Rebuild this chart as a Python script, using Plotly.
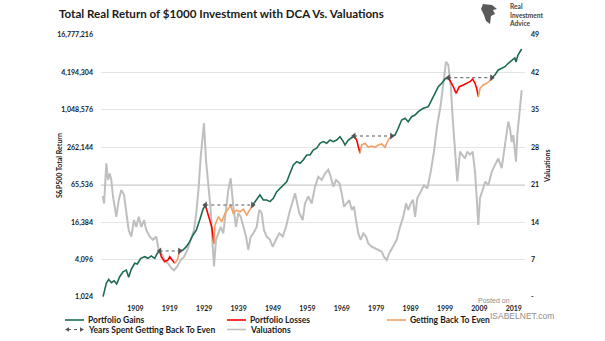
import plotly.graph_objects as go

# ---- data -----------------------------------------------------------------
# Real total-return value of the DCA portfolio (left, log scale)
PORT_YEARS = [
    1899.6, 1900.54, 1901.24, 1902.0, 1902.78, 1903.56, 1904.44, 1905.4, 1906.35, 1907.05,
    1907.8, 1908.8, 1909.55, 1910.54, 1911.7, 1912.66, 1913.62, 1914.6, 1915.37, 1916.06,
    1916.53, 1917.52, 1918.48, 1918.97, 1919.64, 1920.42, 1921.18, 1921.88, 1922.84, 1923.8,
    1924.78, 1925.74, 1926.7, 1927.69, 1928.65, 1929.32, 1929.73, 1930.48, 1931.18, 1931.85,
    1932.14, 1933.1, 1934.09, 1935.05, 1936.0, 1936.7, 1937.44, 1938.45, 1939.4, 1940.37,
    1941.36, 1942.3, 1943.1, 1944.26, 1945.2, 1946.18, 1947.17, 1948.13, 1949.09, 1950.08,
    1951.53, 1952.98, 1953.94, 1954.9, 1955.89, 1956.85, 1957.8, 1958.8, 1959.76, 1960.7,
    1961.7, 1962.66, 1963.6, 1964.6, 1965.57, 1966.5, 1967.5, 1968.48, 1969.44, 1969.93,
    1970.9, 1971.88, 1972.55, 1973.33, 1973.8, 1974.3, 1974.78, 1975.74, 1976.7, 1977.7,
    1978.65, 1979.6, 1980.6, 1981.56, 1982.5, 1983.5, 1984.47, 1985.4, 1986.4, 1987.4,
    1988.3, 1989.3, 1990.28, 1991.24, 1992.7, 1994.15, 1995.13, 1996.1, 1997.05, 1998.04,
    1999.0, 1999.96, 2000.66, 2001.41, 2002.2, 2003.16, 2004.3, 2005.3, 2006.27, 2007.05,
    2007.72, 2008.2, 2008.7, 2009.2, 2010.1, 2011.1, 2011.9, 2012.6, 2013.5, 2014.5,
    2015.5, 2016.44, 2017.4, 2018.4, 2019.3, 2019.64, 2020.2, 2021.3,
]
PORT_VALUES = [
    1040, 1700, 1970, 1740, 1870, 1660, 2170, 2610, 2780, 2120,
    2860, 3570, 3480, 4290, 4560, 4290, 4680, 4290, 5170, 5630,
    4560, 3790, 4030, 4560, 4030, 3570, 4030, 5650, 5840, 6600,
    7940, 10200, 12200, 17700, 26400, 30900, 25700, 18900, 13800, 7490,
    14700, 20000, 16700, 22700, 27500, 30300, 22700, 25500, 24000, 26500,
    21400, 25700, 31000, 37200, 44800, 37200, 37200, 35000, 39600, 50600,
    60900, 73300, 100000, 136000, 154000, 145000, 164000, 197000, 197000, 237000,
    253000, 304000, 323000, 304000, 343000, 323000, 343000, 388000, 323000, 285000,
    343000, 380000, 398000, 343000, 268000, 210000, 285000, 304000, 262000, 275000,
    262000, 285000, 296000, 262000, 343000, 399000, 413000, 530000, 720000, 767000,
    676000, 814000, 867000, 980000, 1111000, 1179000, 1511000, 1936000, 2473000, 2804000,
    3289000, 3452000, 2976000, 2473000, 1936000, 2473000, 2633000, 2804000, 2976000, 3289000,
    2804000, 2330000, 1707000, 2330000, 2633000, 2804000, 3053000, 3460000, 3814000, 4590000,
    4888000, 5185000, 5883000, 6647000, 7156000, 6170000, 7998000, 9991000,
]

# Drawdown episodes: prior peak, bottom, and date the prior peak is regained
PEAK_YEARS = [1916.06, 1929.32, 1972.55, 1999.96]
TROUGH_YEARS = [1920.42, 1931.85, 1974.3, 2008.7]
EVEN_YEARS = [1921.88, 1943.1, 1983.5, 2012.6]

# Valuations (right axis)
VAL_YEARS = [
    1899.5, 1899.9, 1900.54, 1901.03, 1901.53, 1901.99, 1902.49, 1902.98, 1903.45, 1904.15,
    1904.9, 1905.69, 1906.35, 1907.05, 1907.81, 1908.59, 1909.26, 1909.96, 1910.72, 1911.5,
    1912.17, 1913.16, 1914.12, 1915.08, 1915.77, 1916.53, 1917.52, 1918.48, 1919.44, 1920.22,
    1921.18, 1922.17, 1923.13, 1924.09, 1925.08, 1926.03, 1926.7, 1927.4, 1927.98, 1928.36,
    1928.94, 1929.52, 1930.19, 1930.89, 1931.47, 1931.85, 1932.43, 1933.1, 1933.8, 1934.55,
    1935.34, 1936.0, 1936.7, 1937.46, 1938.24, 1938.91, 1939.61, 1940.37, 1941.15, 1941.82,
    1942.52, 1943.27, 1944.26, 1945.02, 1945.72, 1946.38, 1947.17, 1948.13, 1948.91, 1949.87,
    1950.83, 1951.82, 1952.78, 1953.74, 1954.73, 1955.4, 1956.06, 1956.64, 1957.63, 1958.3,
    1959.26, 1960.25, 1961.21, 1962.17, 1963.16, 1964.12, 1965.08, 1965.77, 1966.53, 1967.31,
    1968.27, 1968.97, 1969.64, 1970.42, 1971.18, 1971.88, 1972.55, 1973.13, 1973.8, 1974.49,
    1975.25, 1976.03, 1976.7, 1977.69, 1978.65, 1979.61, 1980.6, 1981.27, 1982.05, 1982.81,
    1983.8, 1984.96, 1985.92, 1986.88, 1987.66, 1988.33, 1989.03, 1989.7, 1990.3, 1990.95,
    1991.94, 1992.9, 1993.85, 1994.84, 1995.8, 1996.76, 1997.75, 1998.5, 1999.29, 1999.96,
    2000.66, 2001.24, 2001.9, 2002.57, 2003.36, 2004.15, 2004.8, 2005.5, 2006.27, 2007.05,
    2007.72, 2008.22, 2008.68, 2009.17, 2009.96, 2010.72, 2011.59, 2012.58, 2013.53, 2014.5,
    2015.48, 2016.44, 2017.4, 2017.9, 2018.39, 2018.86, 2019.64, 2020.02, 2020.6, 2021.3,
]
VAL_VALUES = [
    18.9, 17.5, 25.0, 21.9, 23.1, 21.9, 18.8, 16.3, 15.0, 18.1,
    20.0, 19.1, 16.3, 12.5, 11.3, 14.4, 13.1, 15.0, 13.1, 14.4,
    12.5, 11.3, 10.7, 11.3, 8.8, 8.2, 6.9, 6.3, 5.4, 5.0,
    5.7, 6.9, 7.5, 8.8, 10.7, 12.5, 15.7, 20.6, 26.2, 29.4,
    32.5, 25.6, 20.6, 16.3, 9.4, 5.7, 10.7, 11.9, 13.1, 11.9,
    16.3, 20.0, 22.2, 16.9, 13.1, 15.7, 15.0, 13.1, 11.3, 8.8,
    11.3, 11.9, 13.1, 16.3, 15.7, 12.5, 11.3, 10.7, 9.4, 10.7,
    11.9, 11.3, 13.1, 15.7, 18.1, 19.4, 17.5, 15.7, 14.4, 17.5,
    18.8, 17.5, 20.6, 22.5, 21.9, 23.1, 23.8, 22.5, 20.6, 21.9,
    21.3, 19.4, 16.9, 17.5, 18.1, 16.3, 16.9, 14.4, 11.9, 10.7,
    11.9, 11.3, 10.0, 9.4, 9.1, 8.8, 8.5, 7.5, 6.9, 8.2,
    9.4, 10.7, 13.1, 15.0, 17.5, 16.3, 17.5, 18.2, 15.0, 18.5,
    19.7, 20.9, 20.3, 23.4, 27.2, 32.2, 35.9, 39.6, 44.0, 43.4,
    39.6, 33.4, 27.8, 21.6, 27.2, 26.6, 25.9, 27.2, 26.6, 27.2,
    23.4, 18.5, 13.5, 18.5, 20.3, 21.6, 20.9, 23.4, 24.7, 25.9,
    24.1, 28.4, 32.8, 31.5, 29.0, 30.3, 25.3, 30.3, 34.7, 38.7,
]
VALUATION_AVERAGE = 21

LEFT_TICKS = [1024, 4096, 16384, 65536, 262144, 1048576, 4194304, 16777216]
RIGHT_TICKS = [0, 7, 14, 21, 28, 35, 42, 49]
X_TICKS = [1909, 1919, 1929, 1939, 1949, 1959, 1969, 1979, 1989, 1999, 2009, 2019]

# ---- styling ----------------------------------------------------------------
GREEN = "#1d6b52"
RED = "#ff0000"
ORANGE = "#f4a064"
GRAY = "#bfbfbf"
ARROW = "#555555"
FONT = "Lato"
TXT = "#1a1a1a"

W, H = 605, 341
L, R, T, B = 101, 525, 35, 297
X_RANGE = [1899, 1899 + (R - L) / 3.44]


def fx(p):
    return (p - L) / (R - L)


def fy(p):
    return (B - p) / (B - T)


# ---- split the portfolio line into gain / loss / recovery pieces -------------
def phase(year):
    for p, t, e in zip(PEAK_YEARS, TROUGH_YEARS, EVEN_YEARS):
        if p <= year < t:
            return "loss"
        if t <= year < e:
            return "recover"
    return "gain"


pieces = {"gain": ([], []), "loss": ([], []), "recover": ([], [])}
last_idx = {k: None for k in pieces}
for i in range(len(PORT_YEARS) - 1):
    k = phase((PORT_YEARS[i] + PORT_YEARS[i + 1]) / 2)
    xs, ys = pieces[k]
    if last_idx[k] != i:
        if xs:
            xs.append(None)
            ys.append(None)
        xs.append(PORT_YEARS[i])
        ys.append(PORT_VALUES[i])
    xs.append(PORT_YEARS[i + 1])
    ys.append(PORT_VALUES[i + 1])
    last_idx[k] = i + 1

fig = go.Figure()

fig.add_trace(go.Scatter(
    x=VAL_YEARS, y=VAL_VALUES, yaxis="y", name="Valuations", mode="lines",
    line=dict(color=GRAY, width=2), showlegend=False, hoverinfo="skip",
))

colors = {"gain": GREEN, "loss": RED, "recover": ORANGE}
names = {"gain": "Portfolio Gains", "loss": "Portfolio Losses", "recover": "Getting Back To Even"}
for k in ["gain", "loss", "recover"]:
    xs, ys = pieces[k]
    fig.add_trace(go.Scatter(
        x=xs, y=ys, yaxis="y2", name=names[k], mode="lines",
        line=dict(color=colors[k], width=1.6), showlegend=False, connectgaps=False,
    ))

# dotted arrows spanning each episode at the level of the prior peak
for p, e in zip(PEAK_YEARS, EVEN_YEARS):
    level = PORT_VALUES[PORT_YEARS.index(p)]
    fig.add_trace(go.Scatter(
        x=[p, e], y=[level, level], yaxis="y2", mode="lines+markers",
        name="Years Spent Getting Back To Even",
        line=dict(color=ARROW, width=1, dash="dot"),
        marker=dict(symbol=["triangle-left", "triangle-right"], size=6, color=ARROW),
        showlegend=False,
    ))

shapes = [
    dict(type="line", xref="paper", x0=0, x1=1, yref="y", y0=VALUATION_AVERAGE,
         y1=VALUATION_AVERAGE, line=dict(color="#b3b3b3", width=1.4), layer="below"),
]

# hand-laid legend
legend_rows = [320, 329.5]
legend_items = [
    (65, 0, "Portfolio Gains", GREEN, "line"),
    (227, 0, "Portfolio Losses", RED, "line"),
    (387, 0, "Getting Back To Even", ORANGE, "line"),
    (65, 1, "Years Spent Getting Back To Even", ARROW, "arrow"),
    (227, 1, "Valuations", GRAY, "line"),
]
annotations = []
for x0, row, label, col, kind in legend_items:
    yy = legend_rows[row]
    x1 = x0 + 19
    if kind == "line":
        shapes.append(dict(type="line", xref="paper", yref="paper", x0=fx(x0), x1=fx(x1),
                           y0=fy(yy), y1=fy(yy), line=dict(color=col, width=1.6)))
    else:
        shapes.append(dict(type="line", xref="paper", yref="paper", x0=fx(x0 + 3), x1=fx(x1 - 3),
                           y0=fy(yy), y1=fy(yy), line=dict(color=col, width=1, dash="dot")))
        for tip, back in [(x0, x0 + 4), (x1, x1 - 4)]:
            path = "M {:.5f},{:.5f} L {:.5f},{:.5f} L {:.5f},{:.5f} Z".format(
                fx(tip), fy(yy), fx(back), fy(yy - 2.2), fx(back), fy(yy + 2.2))
            shapes.append(dict(type="path", xref="paper", yref="paper", path=path,
                               fillcolor=col, line=dict(width=0)))
    annotations.append(dict(x=fx(x1 + 2), y=fy(yy), xref="paper", yref="paper", text=label,
                            showarrow=False, xanchor="left", yanchor="middle",
                            font=dict(family=FONT, size=8.5, color=TXT, weight="bold")))

# title
annotations.append(dict(x=fx(57), y=fy(14), xref="paper", yref="paper",
                        text="Total Real Return of $1000 Investment with DCA Vs. Valuations",
                        showarrow=False, xanchor="left", yanchor="middle",
                        font=dict(family=FONT, size=11.6, color=TXT, weight="bold")))
# axis titles
annotations.append(dict(x=fx(59), y=fy(166), xref="paper", yref="paper", text="S&P500 Total Return",
                        textangle=-90, showarrow=False, xanchor="center", yanchor="middle",
                        font=dict(family=FONT, size=7, color=TXT, weight="bold")))
annotations.append(dict(x=fx(547), y=fy(166), xref="paper", yref="paper", text="Valuations",
                        textangle=-90, showarrow=False, xanchor="center", yanchor="middle",
                        font=dict(family=FONT, size=7, color=TXT, weight="bold")))
# brand block
annotations.append(dict(x=fx(507), y=fy(14.5), xref="paper", yref="paper",
                        text="Real<br>Investment<br>Advice", align="left",
                        showarrow=False, xanchor="left", yanchor="middle",
                        font=dict(family=FONT, size=6.6, color="#444444", weight="bold")))
eagle = [(483, 4), (492, 5), (497, 9), (493, 10), (495, 14), (491, 16), (490, 24),
         (486, 21), (484, 15), (481, 9)]
shapes.append(dict(type="path", xref="paper", yref="paper",
                   path="M " + " L ".join("{:.5f},{:.5f}".format(fx(a), fy(b)) for a, b in eagle) + " Z",
                   fillcolor="#5a5a5a", line=dict(width=0)))
# source stamp
annotations.append(dict(x=fx(476), y=fy(300), xref="paper", yref="paper", text="Posted on",
                        showarrow=False, xanchor="left", yanchor="middle",
                        font=dict(family="Liberation Sans", size=7, color="#8c8c8c")))
annotations.append(dict(x=fx(488), y=fy(315.5), xref="paper", yref="paper", text="ISABELNET.com",
                        showarrow=False, xanchor="left", yanchor="middle",
                        font=dict(family="Liberation Sans", size=8.5, color="#8c8c8c")))

tick_font = dict(family=FONT, size=7, color=TXT, weight="bold")

fig.update_layout(
    width=W, height=H,
    margin=dict(l=L, r=W - R, t=T, b=H - B),
    paper_bgcolor="white", plot_bgcolor="white",
    showlegend=False,
    xaxis=dict(range=X_RANGE, tickvals=X_TICKS, ticktext=[str(v) for v in X_TICKS],
               showgrid=False, zeroline=False, showline=False, ticks="", ticklen=0,
               tickfont=tick_font, ticklabelstandoff=6),
    yaxis=dict(range=[0, 49], side="right", tickvals=RIGHT_TICKS,
               ticktext=["-" if v == 0 else str(v) for v in RIGHT_TICKS],
               showgrid=True, gridcolor="#e4e4e4", gridwidth=1, zeroline=False,
               showline=False, ticks="", tickfont=tick_font, ticklabelstandoff=5),
    yaxis2=dict(type="log", range=[3.0103, 7.2247], overlaying="y", side="left",
                tickvals=LEFT_TICKS, ticktext=["{:,}".format(v) for v in LEFT_TICKS],
                showgrid=False, zeroline=False, showline=False, ticks="",
                tickfont=tick_font, ticklabelstandoff=7),
    shapes=shapes,
    annotations=annotations,
)

fig.write_html("out.html")
